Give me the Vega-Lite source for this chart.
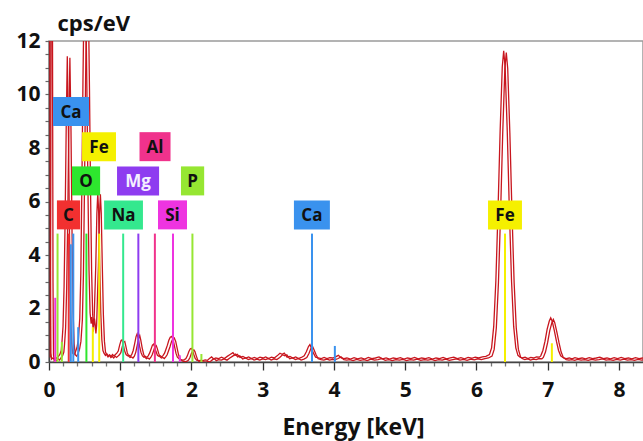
{
  "$schema": "https://vega.github.io/schema/vega-lite/v6.json",
  "width": 594,
  "height": 321,
  "autosize": {"type": "none"},
  "padding": {"left": 49, "top": 41, "right": 0, "bottom": 79},
  "background": "white",
  "config": {
    "view": {"stroke": "#9a9a9a", "strokeWidth": 1.5},
    "font": "Open Sans"
  },
  "datasets": {
    "spectrum": [
      {"e": 0, "cps": 0.2}, {"e": 0.006, "cps": 6}, {"e": 0.012, "cps": 13.5}, {"e": 0.03, "cps": 13.5}, {"e": 0.038, "cps": 3}, {"e": 0.045, "cps": 0.3}, {"e": 0.055, "cps": 0.08}, {"e": 0.07, "cps": 0.12}, {"e": 0.09, "cps": 0.08}, {"e": 0.11, "cps": 0.15}, {"e": 0.13, "cps": 0.1}, {"e": 0.15, "cps": 0.18}, {"e": 0.17, "cps": 0.25}, {"e": 0.19, "cps": 0.4},
      {"e": 0.2, "cps": 0.7}, {"e": 0.215, "cps": 1.3}, {"e": 0.23, "cps": 2.8}, {"e": 0.245, "cps": 5.4}, {"e": 0.26, "cps": 8.8}, {"e": 0.275, "cps": 11.4}, {"e": 0.29, "cps": 8.8}, {"e": 0.305, "cps": 4.9}, {"e": 0.32, "cps": 1.9}, {"e": 0.335, "cps": 0.7}, {"e": 0.35, "cps": 0.3}, {"e": 0.37, "cps": 0.25}, {"e": 0.39, "cps": 0.35}, {"e": 0.41, "cps": 0.5},
      {"e": 0.43, "cps": 0.8}, {"e": 0.45, "cps": 1.6}, {"e": 0.465, "cps": 3.3}, {"e": 0.48, "cps": 6.6}, {"e": 0.495, "cps": 10.5}, {"e": 0.51, "cps": 13.6}, {"e": 0.522, "cps": 14.5}, {"e": 0.535, "cps": 13.4}, {"e": 0.55, "cps": 10.2}, {"e": 0.565, "cps": 6.4}, {"e": 0.58, "cps": 3.4}, {"e": 0.595, "cps": 1.8}, {"e": 0.61, "cps": 1.4}, {"e": 0.62, "cps": 1.65}, {"e": 0.63, "cps": 1.45}, {"e": 0.64, "cps": 1.1}, {"e": 0.65, "cps": 1.4},
      {"e": 0.66, "cps": 2.3}, {"e": 0.675, "cps": 3.6}, {"e": 0.69, "cps": 5.5}, {"e": 0.703, "cps": 6.3}, {"e": 0.715, "cps": 5.6}, {"e": 0.73, "cps": 3.6}, {"e": 0.745, "cps": 1.8}, {"e": 0.76, "cps": 0.8}, {"e": 0.775, "cps": 0.4}, {"e": 0.79, "cps": 0.3}, {"e": 0.81, "cps": 0.22}, {"e": 0.83, "cps": 0.28}, {"e": 0.85, "cps": 0.2}, {"e": 0.87, "cps": 0.24}, {"e": 0.89, "cps": 0.18}, {"e": 0.91, "cps": 0.25}, {"e": 0.93, "cps": 0.2}, {"e": 0.95, "cps": 0.25}, {"e": 0.97, "cps": 0.3},
      {"e": 0.99, "cps": 0.38}, {"e": 1.01, "cps": 0.6}, {"e": 1.03, "cps": 0.78}, {"e": 1.045, "cps": 0.8}, {"e": 1.06, "cps": 0.62}, {"e": 1.08, "cps": 0.38}, {"e": 1.1, "cps": 0.25}, {"e": 1.12, "cps": 0.2}, {"e": 1.14, "cps": 0.22}, {"e": 1.16, "cps": 0.18}, {"e": 1.18, "cps": 0.25}, {"e": 1.2, "cps": 0.4},
      {"e": 1.22, "cps": 0.65}, {"e": 1.24, "cps": 0.92}, {"e": 1.255, "cps": 1.02}, {"e": 1.27, "cps": 0.85}, {"e": 1.29, "cps": 0.55}, {"e": 1.31, "cps": 0.32}, {"e": 1.33, "cps": 0.2}, {"e": 1.35, "cps": 0.15}, {"e": 1.37, "cps": 0.18}, {"e": 1.39, "cps": 0.14}, {"e": 1.41, "cps": 0.2}, {"e": 1.43, "cps": 0.3},
      {"e": 1.45, "cps": 0.45}, {"e": 1.47, "cps": 0.6}, {"e": 1.487, "cps": 0.64}, {"e": 1.5, "cps": 0.55}, {"e": 1.52, "cps": 0.36}, {"e": 1.54, "cps": 0.22}, {"e": 1.56, "cps": 0.18}, {"e": 1.58, "cps": 0.2}, {"e": 1.6, "cps": 0.16}, {"e": 1.62, "cps": 0.22}, {"e": 1.64, "cps": 0.3}, {"e": 1.66, "cps": 0.45},
      {"e": 1.68, "cps": 0.6}, {"e": 1.7, "cps": 0.78}, {"e": 1.72, "cps": 0.9}, {"e": 1.74, "cps": 0.93}, {"e": 1.76, "cps": 0.8}, {"e": 1.78, "cps": 0.55}, {"e": 1.8, "cps": 0.3}, {"e": 1.82, "cps": 0.15}, {"e": 1.84, "cps": 0.1}, {"e": 1.86, "cps": 0.06}, {"e": 1.88, "cps": 0.05}, {"e": 1.9, "cps": 0.04}, {"e": 1.92, "cps": 0.06}, {"e": 1.94, "cps": 0.1}, {"e": 1.96, "cps": 0.2},
      {"e": 1.98, "cps": 0.35}, {"e": 2.0, "cps": 0.46}, {"e": 2.015, "cps": 0.48}, {"e": 2.03, "cps": 0.42}, {"e": 2.05, "cps": 0.25}, {"e": 2.07, "cps": 0.1}, {"e": 2.09, "cps": 0.04}, {"e": 2.12, "cps": 0.02}, {"e": 2.15, "cps": 0.03}, {"e": 2.18, "cps": 0.02}, {"e": 2.21, "cps": 0.05}, {"e": 2.24, "cps": 0.03},
      {"e": 2.27, "cps": 0.1}, {"e": 2.3, "cps": 0.16}, {"e": 2.33, "cps": 0.08}, {"e": 2.36, "cps": 0.12}, {"e": 2.4, "cps": 0.1}, {"e": 2.44, "cps": 0.15}, {"e": 2.48, "cps": 0.1}, {"e": 2.52, "cps": 0.18}, {"e": 2.56, "cps": 0.25}, {"e": 2.6, "cps": 0.32}, {"e": 2.63, "cps": 0.22}, {"e": 2.66, "cps": 0.26}, {"e": 2.7, "cps": 0.14}, {"e": 2.74, "cps": 0.18}, {"e": 2.78, "cps": 0.12}, {"e": 2.82, "cps": 0.16}, {"e": 2.86, "cps": 0.1}, {"e": 2.9, "cps": 0.14}, {"e": 2.94, "cps": 0.1}, {"e": 2.98, "cps": 0.15}, {"e": 3.02, "cps": 0.12}, {"e": 3.06, "cps": 0.16}, {"e": 3.1, "cps": 0.1}, {"e": 3.14, "cps": 0.15}, {"e": 3.18, "cps": 0.12}, {"e": 3.22, "cps": 0.2}, {"e": 3.26, "cps": 0.3}, {"e": 3.29, "cps": 0.26}, {"e": 3.32, "cps": 0.3}, {"e": 3.36, "cps": 0.15}, {"e": 3.4, "cps": 0.18}, {"e": 3.44, "cps": 0.12}, {"e": 3.48, "cps": 0.16}, {"e": 3.52, "cps": 0.1}, {"e": 3.56, "cps": 0.14}, {"e": 3.6, "cps": 0.2},
      {"e": 3.63, "cps": 0.35}, {"e": 3.66, "cps": 0.55}, {"e": 3.68, "cps": 0.62}, {"e": 3.7, "cps": 0.5}, {"e": 3.73, "cps": 0.3}, {"e": 3.76, "cps": 0.15}, {"e": 3.8, "cps": 0.12}, {"e": 3.84, "cps": 0.1}, {"e": 3.88, "cps": 0.14}, {"e": 3.92, "cps": 0.1}, {"e": 3.96, "cps": 0.13}, {"e": 4.0, "cps": 0.12}, {"e": 4.04, "cps": 0.16}, {"e": 4.08, "cps": 0.22}, {"e": 4.12, "cps": 0.12}, {"e": 4.16, "cps": 0.1},
      {"e": 4.2, "cps": 0.12}, {"e": 4.25, "cps": 0.08}, {"e": 4.3, "cps": 0.13}, {"e": 4.35, "cps": 0.09}, {"e": 4.4, "cps": 0.12}, {"e": 4.45, "cps": 0.08}, {"e": 4.5, "cps": 0.14}, {"e": 4.55, "cps": 0.1}, {"e": 4.6, "cps": 0.12}, {"e": 4.65, "cps": 0.16}, {"e": 4.7, "cps": 0.09}, {"e": 4.75, "cps": 0.12}, {"e": 4.8, "cps": 0.08}, {"e": 4.85, "cps": 0.12}, {"e": 4.9, "cps": 0.1}, {"e": 4.95, "cps": 0.13}, {"e": 5.0, "cps": 0.08}, {"e": 5.05, "cps": 0.12}, {"e": 5.1, "cps": 0.1}, {"e": 5.15, "cps": 0.14}, {"e": 5.2, "cps": 0.09}, {"e": 5.25, "cps": 0.12}, {"e": 5.3, "cps": 0.1}, {"e": 5.35, "cps": 0.13}, {"e": 5.4, "cps": 0.08}, {"e": 5.45, "cps": 0.12}, {"e": 5.5, "cps": 0.1}, {"e": 5.55, "cps": 0.14}, {"e": 5.6, "cps": 0.09}, {"e": 5.65, "cps": 0.12}, {"e": 5.7, "cps": 0.15}, {"e": 5.75, "cps": 0.1}, {"e": 5.8, "cps": 0.13}, {"e": 5.85, "cps": 0.09}, {"e": 5.9, "cps": 0.14}, {"e": 5.95, "cps": 0.11}, {"e": 6.0, "cps": 0.15}, {"e": 6.05, "cps": 0.12}, {"e": 6.1, "cps": 0.16}, {"e": 6.15, "cps": 0.18},
      {"e": 6.2, "cps": 0.25}, {"e": 6.23, "cps": 0.5}, {"e": 6.26, "cps": 1.3}, {"e": 6.29, "cps": 3.0}, {"e": 6.32, "cps": 5.6}, {"e": 6.35, "cps": 8.6}, {"e": 6.38, "cps": 11.0}, {"e": 6.4, "cps": 11.6}, {"e": 6.42, "cps": 11.0}, {"e": 6.45, "cps": 8.6}, {"e": 6.48, "cps": 5.6}, {"e": 6.51, "cps": 3.0}, {"e": 6.54, "cps": 1.3}, {"e": 6.57, "cps": 0.5}, {"e": 6.6, "cps": 0.22}, {"e": 6.63, "cps": 0.15}, {"e": 6.66, "cps": 0.12}, {"e": 6.7, "cps": 0.15}, {"e": 6.74, "cps": 0.1}, {"e": 6.78, "cps": 0.14}, {"e": 6.82, "cps": 0.12}, {"e": 6.86, "cps": 0.16}, {"e": 6.9, "cps": 0.15},
      {"e": 6.92, "cps": 0.2}, {"e": 6.95, "cps": 0.4}, {"e": 6.98, "cps": 0.75}, {"e": 7.01, "cps": 1.2}, {"e": 7.04, "cps": 1.5}, {"e": 7.06, "cps": 1.62}, {"e": 7.08, "cps": 1.5}, {"e": 7.11, "cps": 1.15}, {"e": 7.14, "cps": 0.75}, {"e": 7.17, "cps": 0.4}, {"e": 7.2, "cps": 0.2}, {"e": 7.24, "cps": 0.12}, {"e": 7.28, "cps": 0.1},
      {"e": 7.32, "cps": 0.12}, {"e": 7.36, "cps": 0.09}, {"e": 7.4, "cps": 0.13}, {"e": 7.45, "cps": 0.1}, {"e": 7.5, "cps": 0.12}, {"e": 7.55, "cps": 0.09}, {"e": 7.6, "cps": 0.13}, {"e": 7.65, "cps": 0.1}, {"e": 7.7, "cps": 0.12}, {"e": 7.75, "cps": 0.15}, {"e": 7.8, "cps": 0.1}, {"e": 7.85, "cps": 0.12}, {"e": 7.9, "cps": 0.09}, {"e": 7.95, "cps": 0.13}, {"e": 8.0, "cps": 0.1}, {"e": 8.05, "cps": 0.14}, {"e": 8.1, "cps": 0.1}, {"e": 8.15, "cps": 0.12}, {"e": 8.2, "cps": 0.09}, {"e": 8.25, "cps": 0.13}, {"e": 8.3, "cps": 0.1}, {"e": 8.35, "cps": 0.12}, {"e": 8.4, "cps": 0.1}
    ],
    "lines": [
      {"el": "Si", "e": 0.088, "h": 2.4},
      {"el": "P", "e": 0.12, "h": 4.8},
      {"el": "P", "e": 0.18, "h": 0.75},
      {"el": "C", "e": 0.277, "h": 4.8},
      {"el": "Ca", "e": 0.306, "h": 4.4},
      {"el": "Ca", "e": 0.341, "h": 4.8},
      {"el": "Ca", "e": 0.41, "h": 1.3},
      {"el": "O", "e": 0.525, "h": 4.8},
      {"el": "Fe", "e": 0.615, "h": 1.3},
      {"el": "Fe", "e": 0.705, "h": 4.8},
      {"el": "Na", "e": 1.041, "h": 4.8},
      {"el": "Mg", "e": 1.254, "h": 4.8},
      {"el": "Al", "e": 1.486, "h": 4.8},
      {"el": "Si", "e": 1.74, "h": 4.8},
      {"el": "Si", "e": 1.836, "h": 0.25},
      {"el": "P", "e": 2.013, "h": 4.8},
      {"el": "P", "e": 2.139, "h": 0.3},
      {"el": "Ca", "e": 3.691, "h": 4.8},
      {"el": "Ca", "e": 4.012, "h": 0.6},
      {"el": "Fe", "e": 6.4, "h": 4.8},
      {"el": "Fe", "e": 7.058, "h": 0.7}
    ],
    "labels": [
      {"el": "Ca", "e": 0.309, "lvl": 9.36},
      {"el": "Fe", "e": 0.702, "lvl": 8.05},
      {"el": "Al", "e": 1.488, "lvl": 8.05},
      {"el": "O", "e": 0.52, "lvl": 6.77},
      {"el": "Mg", "e": 1.25, "lvl": 6.77},
      {"el": "P", "e": 2.015, "lvl": 6.77},
      {"el": "C", "e": 0.274, "lvl": 5.5},
      {"el": "Na", "e": 1.046, "lvl": 5.5},
      {"el": "Si", "e": 1.733, "lvl": 5.5},
      {"el": "Ca", "e": 3.69, "lvl": 5.5},
      {"el": "Fe", "e": 6.4, "lvl": 5.5}
    ]
  },
  "layer": [
    {
      "data": {"name": "spectrum"},
      "mark": {"type": "line", "color": "#c8161e", "strokeWidth": 1.3, "clip": true, "xOffset": -1.3, "yOffset": -0.8},
      "encoding": {
        "x": {
          "field": "e", "type": "quantitative",
          "scale": {"domain": [0, 8.337], "nice": false, "zero": false},
          "axis": {
            "values": [0,0.2,0.4,0.6,0.8,1,1.2,1.4,1.6,1.8,2,2.2,2.4,2.6,2.8,3,3.2,3.4,3.6,3.8,4,4.2,4.4,4.6,4.8,5,5.2,5.4,5.6,5.8,6,6.2,6.4,6.6,6.8,7,7.2,7.4,7.6,7.8,8,8.2],
            "tickCount": 200,
            "labelExpr": "abs(datum.value - round(datum.value)) < 0.001 ? format(datum.value, 'd') : ''",
            "labelOverlap": false,
            "labelFlush": false,
            "labelFont": "Open Sans",
            "labelFontSize": 21,
            "labelFontWeight": "bold",
            "labelColor": "#111",
            "labelPadding": 9,
            "tickSize": {"condition": {"test": "abs(datum.value - round(datum.value)) < 0.001", "value": 8}, "value": 4},
            "tickColor": {"condition": {"test": "abs(datum.value - round(datum.value)) < 0.001", "value": "#333"}, "value": "#777"},
            "tickWidth": 1.3,
            "domainColor": "#444",
            "domainWidth": 1.5,
            "grid": false,
            "title": "Energy [keV]",
            "titleFont": "Open Sans",
            "titleFontSize": 23,
            "titleFontWeight": "bold",
            "titleColor": "#111",
            "titlePadding": 16,
            "titleX": 304,
            "titleAlign": "center"
          }
        },
        "y": {
          "field": "cps", "type": "quantitative",
          "scale": {"domain": [0, 12], "nice": false},
          "axis": {
            "values": [0,0.5,1,1.5,2,2.5,3,3.5,4,4.5,5,5.5,6,6.5,7,7.5,8,8.5,9,9.5,10,10.5,11,11.5,12],
            "tickCount": 200,
            "labelExpr": "datum.value % 2 == 0 ? format(datum.value, 'd') : ''",
            "labelOverlap": false,
            "labelFlush": false,
            "labelFont": "Open Sans",
            "labelFontSize": 21,
            "labelFontWeight": "bold",
            "labelColor": "#111",
            "labelPadding": 5,
            "tickSize": 4,
            "tickColor": "#666",
            "tickWidth": 1.2,
            "domainColor": "#444",
            "domainWidth": 1.5,
            "grid": false,
            "title": "cps/eV",
            "titleAngle": 0,
            "titleAlign": "left",
            "titleBaseline": "alphabetic",
            "titleX": 8,
            "titleY": -11,
            "titleFont": "Open Sans",
            "titleFontSize": 22,
            "titleFontWeight": "bold",
            "titleColor": "#111"
          }
        }
      }
    },
    {
      "data": {"name": "spectrum"},
      "mark": {"type": "line", "color": "#c8161e", "strokeWidth": 1.3, "clip": true, "xOffset": 1.3, "yOffset": 0.8},
      "encoding": {
        "x": {"field": "e", "type": "quantitative"},
        "y": {"field": "cps", "type": "quantitative"}
      }
    },
    {
      "data": {"name": "lines"},
      "mark": {"type": "rule", "strokeWidth": 2},
      "encoding": {
        "x": {"field": "e", "type": "quantitative"},
        "y": {"field": "h", "type": "quantitative"},
        "y2": {"datum": 0},
        "color": {
          "field": "el", "type": "nominal", "legend": null,
          "scale": {
            "domain": ["C", "O", "Fe", "Ca", "Na", "Mg", "Al", "Si", "P"],
            "range": ["#f23030", "#2ee62e", "#f5f000", "#3a92ee", "#34e88e", "#8e3cf0", "#f0328c", "#ee34e0", "#96e632"]
          }
        }
      }
    },
    {
      "data": {"name": "labels"},
      "mark": {"type": "point", "filled": true, "opacity": 1, "size": 841, "strokeWidth": 0},
      "encoding": {
        "x": {"field": "e", "type": "quantitative"},
        "y": {"field": "lvl", "type": "quantitative"},
        "color": {"field": "el", "type": "nominal", "legend": null},
        "shape": {
          "field": "el", "type": "nominal", "legend": null,
          "scale": {
            "domain": ["C", "O", "Fe", "Ca", "Na", "Mg", "Al", "Si", "P"],
            "range": [
              "M-0.8,-1H0.8V1H-0.8Z",
              "M-0.97,-1H0.97V1H-0.97Z",
              "M-1.17,-1H1.17V1H-1.17Z",
              "M-1.24,-1H1.24V1H-1.24Z",
              "M-1.34,-1H1.34V1H-1.34Z",
              "M-1.45,-1H1.45V1H-1.45Z",
              "M-1.07,-1H1.07V1H-1.07Z",
              "M-1,-1H1V1H-1Z",
              "M-0.8,-1H0.8V1H-0.8Z"
            ]
          }
        }
      }
    },
    {
      "data": {"name": "labels"},
      "mark": {"type": "text", "font": "Open Sans", "fontSize": 17, "fontWeight": "bold", "baseline": "middle", "align": "center", "dy": 1},
      "encoding": {
        "x": {"field": "e", "type": "quantitative"},
        "y": {"field": "lvl", "type": "quantitative"},
        "text": {"field": "el", "type": "nominal"},
        "color": {"condition": {"test": "datum.el === 'Mg'", "value": "#f4f0ff"}, "value": "#111111"}
      }
    }
  ]
}
